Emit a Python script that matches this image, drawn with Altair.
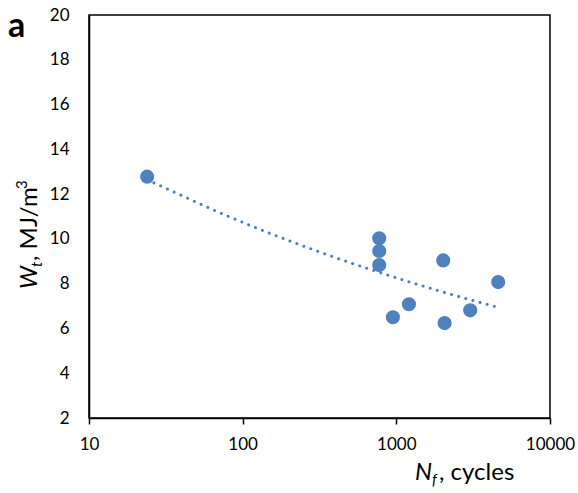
import altair as alt
import pandas as pd

# data
cycles = [23.9, 774, 774, 774, 2019, 4603, 1208, 950, 2061, 3026]
energy = [12.78, 10.03, 9.46, 8.83, 9.04, 8.07, 7.08, 6.50, 6.24, 6.81]
x_ticks = [10, 100, 1000, 10000]
y_ticks = [2, 4, 6, 8, 10, 12, 14, 16, 18, 20]

FONT = "Lato"
COLOR = "#4F81BD"

df = pd.DataFrame({"N": cycles, "W": energy})

xscale = alt.Scale(type="log", domain=[10, 10000], nice=False)
yscale = alt.Scale(domain=[2, 20], nice=False, zero=False)

x_axis = alt.Axis(values=x_ticks, format="d", title=None, grid=False,
                  domainColor="black", domainWidth=1.5, tickColor="black",
                  tickWidth=1.5, tickSize=6, labelFontSize=17, labelFont=FONT,
                  labelColor="black", labelPadding=12, labelFlush=False)
y_axis = alt.Axis(values=y_ticks, title=None, grid=False,
                  domainColor="black", domainWidth=1.5, ticks=False,
                  labelFontSize=17, labelFont=FONT, labelColor="black",
                  labelPadding=20, labelFlush=False)

trend = alt.Chart(df).transform_regression(
    "N", "W", method="pow"
).mark_line(
    color=COLOR, strokeWidth=3, strokeDash=[0.1, 7.3], strokeCap="round"
).encode(
    x=alt.X("N:Q", scale=xscale, axis=x_axis),
    y=alt.Y("W:Q", scale=yscale, axis=y_axis),
)

points = alt.Chart(df).mark_circle(size=200, color=COLOR, opacity=1).encode(
    x=alt.X("N:Q", scale=xscale),
    y=alt.Y("W:Q", scale=yscale),
)


def label(txt, x, y, size, style="normal", weight="normal", angle=0):
    return alt.Chart(pd.DataFrame({"t": [txt]})).mark_text(
        font=FONT, fontSize=size, fontStyle=style, fontWeight=weight,
        angle=angle, align="left", baseline="alphabetic", color="black"
    ).encode(x=alt.value(x), y=alt.value(y), text="t:N")


texts = [
    # y title (rotated)
    label("W", -52, 274, 24, "italic", angle=270),
    label("t", -47, 252, 15, "italic", angle=270),
    label(", MJ/m", -52, 246, 24, angle=270),
    label("3", -62, 174, 15, angle=270),
    # x title
    label("N", 326, 465, 24, "italic"),
    label("f", 343, 470, 15, "italic"),
    label(", cycles", 350, 465, 24),
    # panel letter
    label("a", -81, 22, 34, weight="bold"),
]

chart = alt.layer(trend, points, *texts).properties(
    width=461, height=403,
    autosize=alt.AutoSizeParams(type="none"),
    padding={"left": 89, "top": 15, "right": 28, "bottom": 75},
).configure_view(stroke="black", strokeWidth=1.5)

chart.save("out.html", embed_options={"renderer": "svg", "actions": False})
